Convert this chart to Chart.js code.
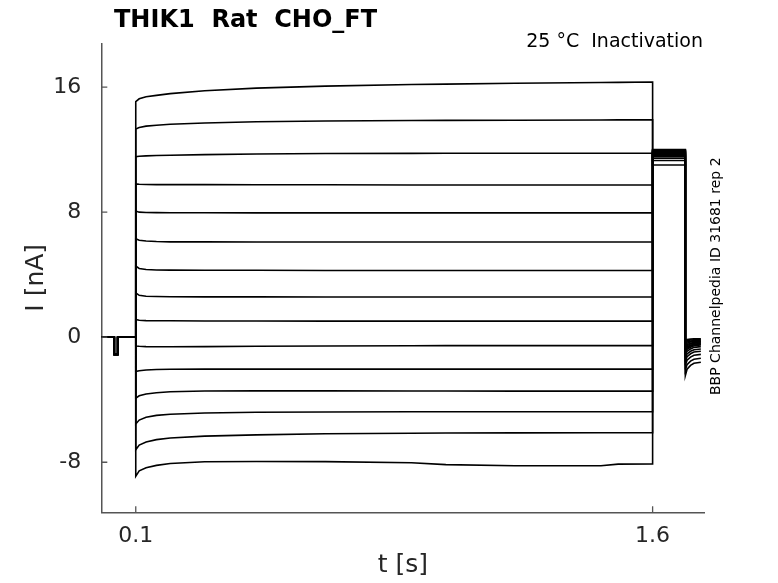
<!DOCTYPE html>
<html><head><meta charset="utf-8">
<script src="https://cdn.jsdelivr.net/npm/chart.js@4.4.0/dist/chart.umd.min.js"></script>
<style>html,body{margin:0;padding:0;background:#fff;overflow:hidden;} #wrap{width:778px;height:583px;position:relative;}</style>
</head><body><div id="wrap"><canvas id="c" width="778" height="583"></canvas></div>
<script>
const chartTitle = "THIK1  Rat  CHO_FT";
const conditionLabel = "25 °C  Inactivation";
const sourceLabel = "BBP Channelpedia ID 31681 rep 2";
const xTitle = "t [s]";
const yTitle = "I [nA]";
const xTicks = [0.1, 1.6];
const yTicks = [-8, 0, 8, 16];

// holding level with short hyperpolarising check pulse (shared by all sweeps)
const holdTimes = [0, 0.0377, 0.0377, 0.0476, 0.0476, 0.1];
const holdCurrents = [0, 0, -1.1, -1.1, 0, 0];

// conditioning (pre-pulse) step, 15 sweeps
const stepTimes = [0.1, 0.11, 0.13, 0.16, 0.2, 0.3, 0.45, 0.65, 0.9, 1.0, 1.2, 1.45, 1.5, 1.6];
const stepCurrents = [
  [15.07, 15.25, 15.38, 15.47, 15.58, 15.76, 15.93, 16.06, 16.16, 16.19, 16.24, 16.29, 16.3, 16.32],
  [13.32, 13.42, 13.5, 13.56, 13.62, 13.7, 13.78, 13.83, 13.86, 13.87, 13.88, 13.89, 13.9, 13.9],
  [11.55, 11.58, 11.6, 11.62, 11.64, 11.68, 11.72, 11.75, 11.76, 11.77, 11.77, 11.77, 11.77, 11.77],
  [9.8, 9.78, 9.77, 9.76, 9.76, 9.76, 9.75, 9.75, 9.74, 9.74, 9.74, 9.74, 9.74, 9.74],
  [8.07, 8.0, 7.98, 7.97, 7.96, 7.96, 7.95, 7.95, 7.95, 7.95, 7.95, 7.95, 7.95, 7.95],
  [6.3, 6.2, 6.15, 6.12, 6.1, 6.1, 6.09, 6.09, 6.09, 6.09, 6.09, 6.09, 6.09, 6.09],
  [4.55, 4.4, 4.33, 4.3, 4.29, 4.28, 4.28, 4.27, 4.27, 4.27, 4.27, 4.27, 4.27, 4.27],
  [2.84, 2.68, 2.62, 2.6, 2.59, 2.58, 2.58, 2.57, 2.57, 2.57, 2.57, 2.57, 2.57, 2.57],
  [1.13, 1.08, 1.06, 1.05, 1.05, 1.04, 1.04, 1.03, 1.03, 1.03, 1.03, 1.03, 1.03, 1.03],
  [-0.56, -0.58, -0.6, -0.61, -0.61, -0.6, -0.58, -0.56, -0.55, -0.54, -0.54, -0.54, -0.54, -0.54],
  [-2.2, -2.15, -2.1, -2.07, -2.05, -2.04, -2.04, -2.04, -2.04, -2.04, -2.04, -2.04, -2.04, -2.04],
  [-3.9, -3.75, -3.63, -3.55, -3.49, -3.44, -3.43, -3.43, -3.44, -3.44, -3.45, -3.45, -3.45, -3.45],
  [-5.55, -5.3, -5.12, -5.0, -4.93, -4.85, -4.8, -4.78, -4.77, -4.77, -4.77, -4.77, -4.77, -4.77],
  [-7.2, -6.9, -6.7, -6.55, -6.45, -6.33, -6.25, -6.18, -6.14, -6.13, -6.12, -6.11, -6.11, -6.11],
  [-8.9, -8.55, -8.35, -8.2, -8.08, -7.97, -7.95, -7.96, -8.03, -8.15, -8.22, -8.22, -8.12, -8.1]
];

// test pulse
const testTimes = [1.6, 1.695];
const testCurrents = [11.02, 11.3, 11.45, 11.55, 11.62, 11.68, 11.74, 11.78, 11.82, 11.86, 11.89, 11.92, 11.95, 11.97, 12.0];

// tail after test pulse
const tailTimes = [1.695, 1.70, 1.71, 1.72, 1.74];
const tailCurrents = [
  [-0.2, -0.15, -0.12, -0.1, -0.1],
  [-0.3, -0.22, -0.18, -0.16, -0.15],
  [-0.4, -0.3, -0.25, -0.22, -0.2],
  [-0.5, -0.38, -0.31, -0.27, -0.25],
  [-0.6, -0.46, -0.38, -0.33, -0.3],
  [-0.7, -0.54, -0.44, -0.38, -0.35],
  [-0.8, -0.62, -0.51, -0.44, -0.4],
  [-0.9, -0.7, -0.57, -0.49, -0.45],
  [-1.0, -0.78, -0.64, -0.55, -0.5],
  [-1.15, -0.9, -0.75, -0.65, -0.6],
  [-1.35, -1.07, -0.9, -0.8, -0.75],
  [-1.55, -1.25, -1.06, -0.95, -0.9],
  [-1.8, -1.47, -1.27, -1.15, -1.1],
  [-2.1, -1.75, -1.53, -1.41, -1.35],
  [-2.45, -2.05, -1.8, -1.67, -1.6]
];

const datasets = stepCurrents.map((vals, i) => {
  const pts = [];
  holdTimes.forEach((t, k) => pts.push({x: t, y: holdCurrents[k]}));
  stepTimes.forEach((t, k) => pts.push({x: t, y: vals[k]}));
  testTimes.forEach(t => pts.push({x: t, y: testCurrents[i]}));
  tailTimes.forEach((t, k) => pts.push({x: t, y: tailCurrents[i][k]}));
  return {data: pts, borderColor: '#000', borderWidth: 1.6, pointRadius: 0, fill: false, tension: 0};
});

const FONT = 'DejaVu Sans';
const decor = {
  id: 'decor',
  afterDraw(chart) {
    const {ctx, chartArea: a, scales: {x, y}} = chart;
    ctx.save();
    ctx.strokeStyle = '#555';
    ctx.lineWidth = 1.3;
    ctx.beginPath();
    xTicks.forEach(v => { const px = x.getPixelForValue(v); ctx.moveTo(px, a.bottom); ctx.lineTo(px, a.bottom - 6); });
    yTicks.forEach(v => { const py = y.getPixelForValue(v); ctx.moveTo(a.left, py); ctx.lineTo(a.left + 6, py); });
    ctx.stroke();
    ctx.fillStyle = '#000';
    ctx.font = 'bold 24px "' + FONT + '"';
    ctx.textBaseline = 'alphabetic';
    ctx.textAlign = 'left';
    ctx.fillText(chartTitle, 114, 27);
    ctx.font = '19px "' + FONT + '"';
    ctx.textAlign = 'right';
    ctx.fillText(conditionLabel, 703, 47);
    ctx.translate(716, 395);
    ctx.rotate(-Math.PI / 2);
    ctx.font = '14px "' + FONT + '"';
    ctx.textAlign = 'left';
    ctx.textBaseline = 'middle';
    ctx.fillText(sourceLabel, 0, 0);
    ctx.restore();
  }
};

new Chart(document.getElementById('c'), {
  type: 'line',
  data: {datasets},
  plugins: [decor],
  options: {
    responsive: false,
    animation: false,
    devicePixelRatio: 1,
    layout: {padding: {top: 43.3, right: 73.7, left: 0, bottom: 0}},
    plugins: {legend: {display: false}, tooltip: {enabled: false}, title: {display: false}},
    scales: {
      x: {
        type: 'linear', min: 0, max: 1.75,
        afterBuildTicks: s => { s.ticks = xTicks.map(v => ({value: v})); },
        afterFit: s => { s.height = 70.7; },
        grid: {display: false, drawTicks: false},
        border: {display: true, color: '#555', width: 1.5},
        ticks: {font: {family: FONT, size: 22}, color: '#262626', padding: 11, maxRotation: 0, autoSkip: false, callback: v => String(v)},
        title: {display: true, text: xTitle, font: {family: FONT, size: 25}, color: '#262626', padding: {top: 0, bottom: 3}}
      },
      y: {
        type: 'linear', min: -11.2, max: 18.8,
        afterBuildTicks: s => { s.ticks = yTicks.map(v => ({value: v})); },
        afterFit: s => { s.width = 101.3; },
        grid: {display: false, drawTicks: false},
        border: {display: true, color: '#555', width: 1.5},
        ticks: {font: {family: FONT, size: 22}, color: '#262626', padding: 20, autoSkip: false, callback: v => String(v)},
        title: {display: true, text: yTitle, font: {family: FONT, size: 25}, color: '#262626', padding: {top: 21, bottom: 0}}
      }
    }
  }
});
</script>
</body></html>
